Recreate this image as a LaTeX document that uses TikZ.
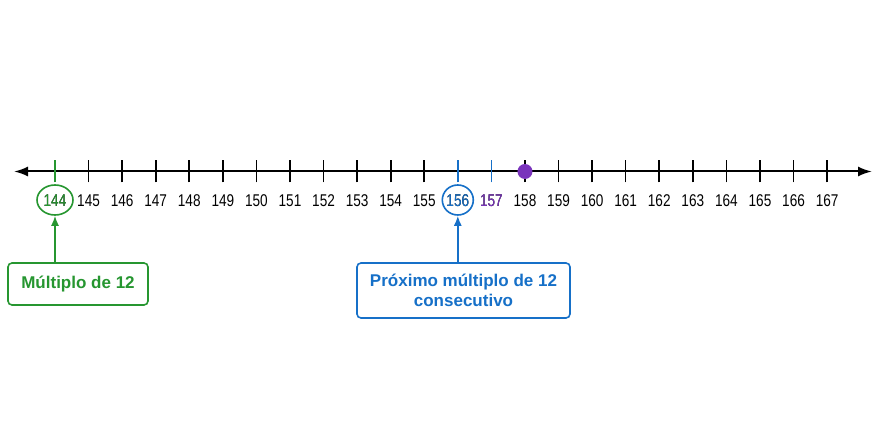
\documentclass[tikz,border=0pt]{standalone}
\usepackage{fontspec}
\setmainfont{Liberation Sans}
\newfontfamily\condfont[FakeStretch=0.8]{Liberation Sans}
\usetikzlibrary{arrows.meta,shapes.geometric}
\definecolor{mgreen}{RGB}{38,150,48}
\definecolor{mblue}{RGB}{22,112,200}
\definecolor{mpurple}{RGB}{122,52,188}
\tikzset{
  numlbl/.style={font=\condfont\fontsize{17}{19}\selectfont, inner sep=0pt, anchor=center},
  tickmark/.style={line width=1.6pt},
  callout/.style={draw, line width=1.6pt, rounded corners=4pt, font=\fontsize{17}{20}\selectfont\bfseries, align=center},
  pointer/.style={line width=1.6pt, -{Latex[length=10pt,width=8pt]}},
}
\begin{document}
\begin{tikzpicture}[x=1pt,y=-1pt]
\useasboundingbox (0,0) rectangle (887,443);
\fill[white] (0,0) rectangle (887,443);
\coordinate (L) at (14,171.5);
\coordinate (R) at (872,171.5);
\draw[line width=2pt, {Latex[length=14pt,width=10pt]}-{Latex[length=14pt,width=10pt]}] (L) -- (R);
\foreach \n in {144,...,167}{
  \pgfmathsetmacro{\xx}{55+(\n-144)*33.57}
  \coordinate (t\n) at (\xx,171.5);
  \node[numlbl] (n\n) at (\xx,201) {\n};
}
\foreach \n in {145,...,155,158,159,160,161,162,163,164,165,166,167}{
  \draw[tickmark] ([yshift=-11pt]t\n) -- ([yshift=11pt]t\n);
}
\draw[tickmark, mgreen] ([yshift=-11pt]t144) -- ([yshift=11pt]t144);
\draw[tickmark, mblue] ([yshift=-11pt]t156) -- ([yshift=11pt]t156);
\draw[tickmark, mblue] ([yshift=-11pt]t157) -- ([yshift=11pt]t157);
\fill[mpurple] (t158) circle (7.5pt);
\node[numlbl, text=mgreen] at (n144) {144};
\node[numlbl, text=mblue] at (n156) {156};
\node[numlbl, text=mpurple] at (n157) {157};
\node[draw=mgreen, line width=1.6pt, ellipse, minimum width=36pt, minimum height=30pt, inner sep=0pt] (e144) at (55,200) {};
\node[draw=mblue, line width=1.6pt, ellipse, minimum width=31pt, minimum height=30pt, inner sep=0pt] (e156) at (457.8,200) {};
\node[callout, draw=mgreen, text=mgreen, minimum width=140pt, minimum height=42pt] (b1) at (78,284) {Múltiplo de 12};
\node[callout, draw=mblue, text=mblue, minimum width=213pt, minimum height=55pt] (b2) at (463.5,290.5) {Próximo múltiplo de 12\\consecutivo};
\draw[pointer, mgreen] (b1.north -| e144) -- (e144.south);
\draw[pointer, mblue] (b2.north -| e156) -- (e156.south);
\end{tikzpicture}
\end{document}
